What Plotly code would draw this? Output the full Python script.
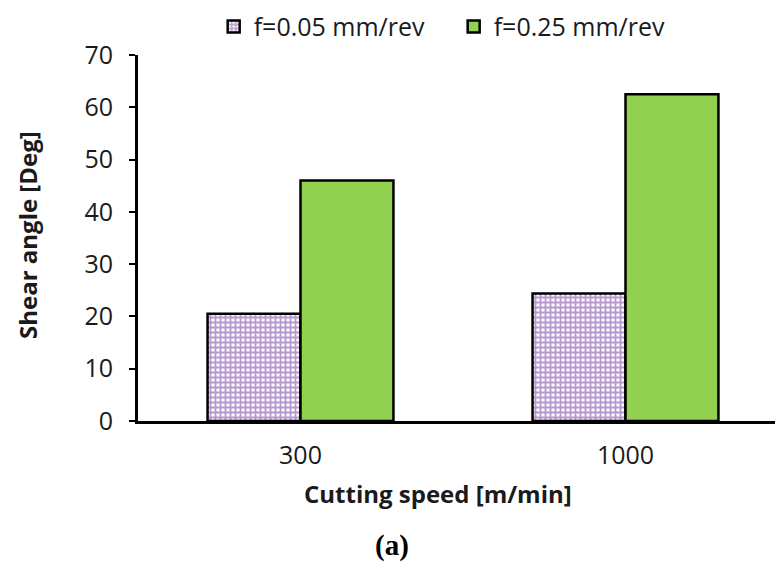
import plotly.graph_objects as go

categories = ["300", "1000"]
series_names = ["f=0.05 mm/rev", "f=0.25 mm/rev"]
vals_f005 = [20.5, 24.4]
vals_f025 = [46.0, 62.5]
y_ticks = [0, 10, 20, 30, 40, 50, 60, 70]

fig = go.Figure()
fig.add_trace(go.Bar(
    x=categories, y=vals_f005, name=series_names[0],
    marker=dict(color="white", line=dict(color="black", width=2.5),
                pattern=dict(shape="+", fgcolor="#7030A0", bgcolor="white",
                             size=5, solidity=0.6, fillmode="overlay")),
))
fig.add_trace(go.Bar(
    x=categories, y=vals_f025, name=series_names[1],
    marker=dict(color="#92D050", line=dict(color="black", width=2.5)),
))

font_main = "Open Sans"
fig.update_layout(
    width=775, height=563,
    margin=dict(l=138, r=0, t=55, b=142, autoexpand=False),
    paper_bgcolor="white", plot_bgcolor="white",
    barmode="group", bargap=0.428, bargroupgap=0,
    font=dict(family=font_main, size=25, color="#1a1a1a"),
    showlegend=True,
    legend=dict(orientation="h", x=0.1188, xanchor="left", y=1.077, yanchor="middle",
                font=dict(size=25, family=font_main), traceorder="normal",
                itemwidth=30, entrywidth=195, entrywidthmode="pixels"),
    xaxis=dict(range=[-0.5, 1.46], showline=True, linecolor="black", linewidth=3,
               ticks="", showgrid=False, tickfont=dict(size=25), zeroline=False,
               ticklabelstandoff=10),
    yaxis=dict(range=[0, 70], tickvals=y_ticks, showline=True, linecolor="black",
               linewidth=3, ticks="outside", ticklen=6, tickwidth=2, tickcolor="black",
               showgrid=False, zeroline=False, tickfont=dict(size=25),
               ticklabelstandoff=11),
    annotations=[
        dict(text="<b>Cutting speed [m/min]</b>", xref="paper", yref="paper",
             x=(438 - 138) / 637, y=-(494 - 421) / 366, xanchor="center", yanchor="middle",
             showarrow=False, font=dict(size=24, family=font_main, color="#1a1a1a")),
        dict(text="<b>Shear angle [Deg]</b>", xref="paper", yref="paper",
             x=-(138 - 27) / 637, y=(421 - 235) / 366, xanchor="center", yanchor="middle",
             textangle=-90, showarrow=False,
             font=dict(size=24, family=font_main, color="#1a1a1a")),
        dict(text="<b>(a)</b>", xref="paper", yref="paper",
             x=(392 - 138) / 637, y=-(545 - 421) / 366, xanchor="center", yanchor="middle",
             showarrow=False, font=dict(size=29, family="Liberation Serif", color="black")),
    ],
)

fig.write_html("out.html")
